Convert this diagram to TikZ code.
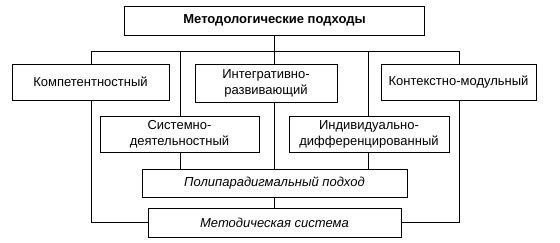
\documentclass[tikz,border=0pt]{standalone}
\usepackage{fontspec}
\setmainfont{Liberation Sans}
\begin{document}
\begin{tikzpicture}[x=1pt,y=-1pt,line width=0.8pt,
  box/.style={draw,inner sep=1pt,align=center,font=\fontsize{13}{16}\selectfont}]
\useasboundingbox (0,0) rectangle (560,242);
\path
(274.5,20.5) node[box,minimum width=300pt,minimum height=29pt,font=\fontsize{13}{16}\selectfont\bfseries] (title) {Методологические подходы}
(90.5,82) node[box,minimum width=157pt,minimum height=36pt] (komp) {Компетентностный}
(266,83) node[box,minimum width=142pt,minimum height=38pt] (integr) {Интегративно-\\развивающий}
(458.5,82) node[box,minimum width=155pt,minimum height=36pt] (kont) {Контекстно-модульный}
(179.5,134) node[box,minimum width=159pt,minimum height=36pt] (sist) {Системно-\\деятельностный}
(369,134) node[box,minimum width=160pt,minimum height=36pt] (indiv) {Индивидуально-\\дифференцированный}
(274.5,183) node[box,minimum width=265pt,minimum height=28pt,font=\fontsize{13}{16}\selectfont\itshape] (poli) {Полипарадигмальный подход}
(274.5,222.5) node[box,minimum width=253pt,minimum height=29pt,font=\fontsize{13}{16}\selectfont\itshape] (metod) {Методическая система}
(91,51) coordinate (bl)
(180,51) coordinate (bs)
(368,51) coordinate (bi)
(459,51) coordinate (br);
%bus
\draw (bl)--(br);
\draw (title.south)--(title.south |- integr.north);
\draw (bl)--(bl |- komp.north);
\draw (bs)--(bs |- sist.north);
\draw (bi)--(bi |- indiv.north);
\draw (br)--(br |- kont.north);
\draw (title.south |- integr.south)--(title.south |- poli.north);
\draw (sist.south -| bs)--(bs |- poli.north);
\draw (indiv.south -| bi)--(bi |- poli.north);
\draw (title.south |- poli.south)--(title.south |- metod.north);
\draw (komp.south -| bl)--(bl |- metod.west)--(metod.west);
\draw (kont.south -| br)--(br |- metod.east)--(metod.east);
\end{tikzpicture}
\end{document}
